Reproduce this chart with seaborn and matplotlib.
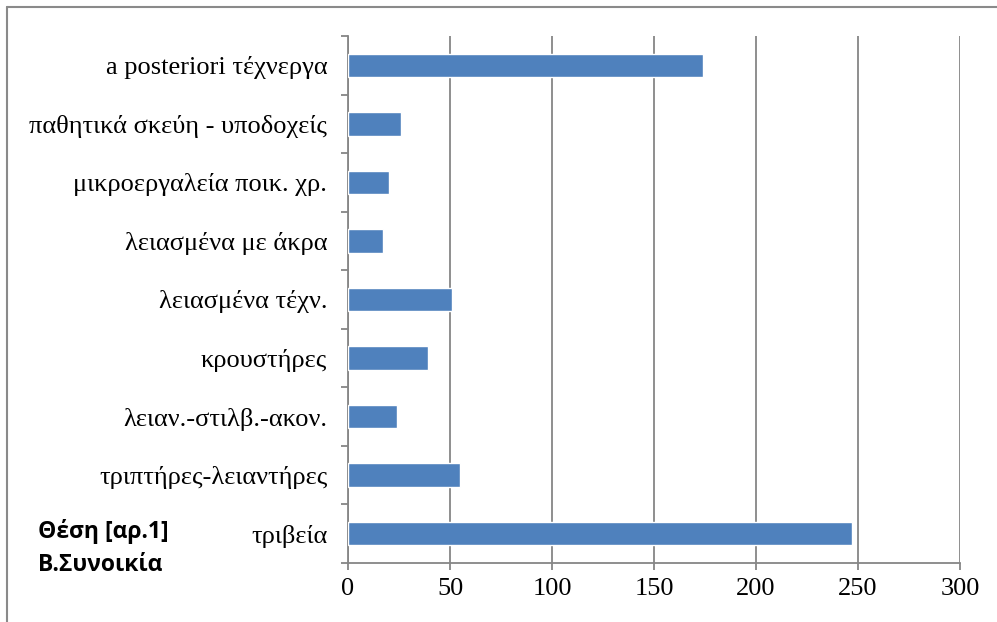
import matplotlib
matplotlib.use("Agg")
import matplotlib.pyplot as plt
import seaborn as sns
import pandas as pd
from matplotlib.lines import Line2D
from matplotlib.ticker import FixedLocator

# data (top to bottom as in the chart)
categories = ["a posteriori τέχνεργα", "παθητικά σκεύη - υποδοχείς", "μικροεργαλεία ποικ. χρ.",
              "λειασμένα με άκρα", "λειασμένα τέχν.", "κρουστήρες", "λειαν.-στιλβ.-ακον.",
              "τριπτήρες-λειαντήρες", "τριβεία"]
values = [174, 26, 20, 17, 51, 39, 24, 55, 247]
x_ticks = [0, 50, 100, 150, 200, 250, 300]
note_text = "Θέση [αρ.1]\nΒ.Συνοικία"

df = pd.DataFrame({"cat": categories, "val": values})

sns.set_style("white")
plt.rcParams["font.family"] = "serif"
plt.rcParams["font.serif"] = ["Liberation Serif", "DejaVu Serif"]

fig = plt.figure(figsize=(9.97, 6.22), dpi=100)
ax = fig.add_axes([348 / 997, 1 - 563 / 622, (960 - 348) / 997, (563 - 36) / 622])

sns.barplot(data=df, x="val", y="cat", orient="h", color="#4F81BD",
            saturation=1, width=0.4, ax=ax, zorder=3)

grid_c = "#868686"
ax.set_xlim(0, 300)
ax.set_ylim(len(categories) - 0.5, -0.5)
ax.xaxis.set_major_locator(FixedLocator(x_ticks))
ax.grid(axis="x", color=grid_c, linewidth=1.3, zorder=0)
ax.grid(axis="y", visible=False)
ax.set_xlabel("")
ax.set_ylabel("")

for s in ["top", "right"]:
    ax.spines[s].set_visible(False)
for s in ["left", "bottom"]:
    ax.spines[s].set_color(grid_c)
    ax.spines[s].set_linewidth(1.3)

# small ticks between categories, like Excel
ax.yaxis.set_minor_locator(FixedLocator([i - 0.5 for i in range(len(categories) + 1)]))
ax.tick_params(axis="y", which="major", length=0, pad=15, labelsize=19, colors="black")
ax.tick_params(axis="y", which="minor", length=5, width=1.3, color=grid_c, direction="out", left=True)
ax.tick_params(axis="x", which="major", length=5, width=1.3, color=grid_c, direction="out",
               bottom=True, pad=6, labelsize=19, labelcolor="black")

fig.text(38 / 997, 1 - 548 / 622, note_text, fontsize=16.5, fontweight="bold", color="black",
         family=["Open Sans", "DejaVu Sans"], ha="left", va="center", linespacing=1.45)

# outer frame (cut off at right and bottom)
fig.add_artist(Line2D([7 / 997, 7 / 997], [1 - 7 / 622, 0], color="#8a8a8a", lw=1.5))
fig.add_artist(Line2D([7 / 997, 1], [1 - 7 / 622, 1 - 7 / 622], color="#8a8a8a", lw=1.5))

fig.savefig("out.png", dpi=100)
